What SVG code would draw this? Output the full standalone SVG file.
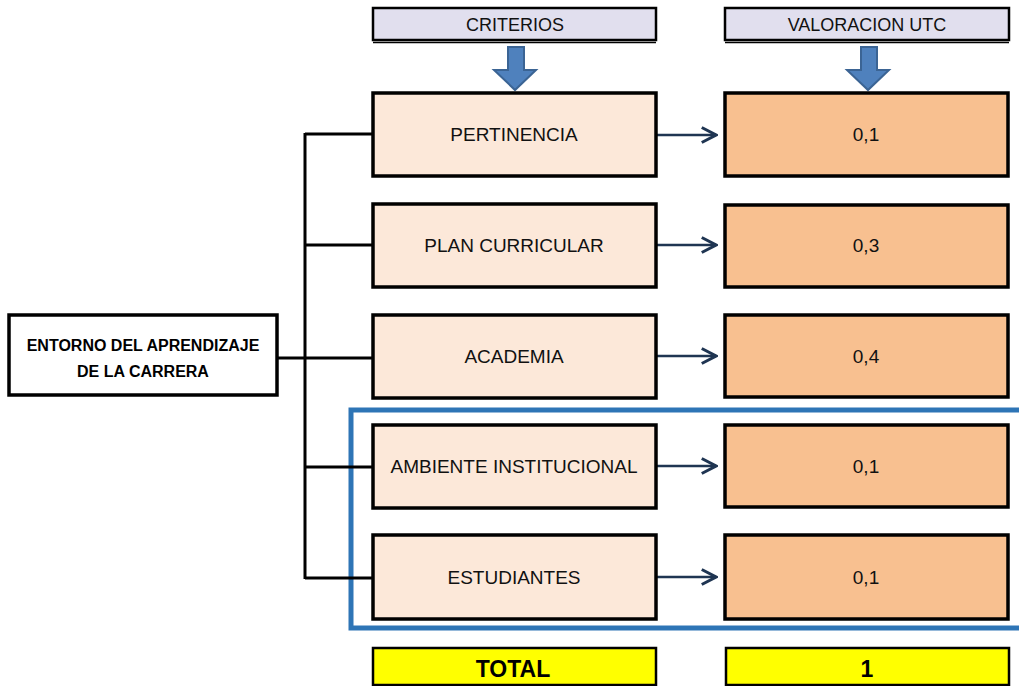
<svg xmlns="http://www.w3.org/2000/svg" width="1019" height="686" viewBox="0 0 1019 686">
  <defs>
    <style>
      .hdr { fill: #E1DFEE; stroke: #000; stroke-width: 2.5; }
      .crit { fill: #FCE8D9; stroke: #000; stroke-width: 3.5; }
      .val { fill: #F8C090; stroke: #000; stroke-width: 3.5; }
      .tot { fill: #FFFF00; stroke: #000; stroke-width: 2.5; }
      .root { fill: #FFFFFF; stroke: #000; stroke-width: 3.5; }
      .t { font-family: "Liberation Sans", Arial, sans-serif; font-size: 19px; fill: #111; text-anchor: middle; }
      .th { font-family: "Liberation Sans", Arial, sans-serif; font-size: 18px; fill: #111; text-anchor: middle; }
      .tb { font-family: "Liberation Sans", Arial, sans-serif; font-weight: bold; fill: #000; text-anchor: middle; }
      .down { fill: #4F81BD; stroke: #3B6494; stroke-width: 2; }
      .tree { stroke: #000; stroke-width: 3; fill: none; }
      .link { stroke: #1F3552; stroke-width: 2.5; fill: none; marker-end: url(#chev); }
    </style>
    <marker id="chev" viewBox="0 0 12 12" refX="11" refY="6" markerWidth="18" markerHeight="18" markerUnits="userSpaceOnUse" orient="auto">
      <path d="M1.5,1 L11,6 L1.5,11" fill="none" stroke="#1F3552" stroke-width="2"/>
    </marker>
  </defs>

  <!-- column headers -->
  <g id="hdr-criterios">
    <rect class="hdr" x="373" y="8" width="283" height="32"/>
    <line x1="373" y1="42.5" x2="656" y2="42.5" stroke="#000" stroke-width="1.5"/>
    <text class="th" x="515" y="31">CRITERIOS</text>
    <path class="down" d="M508,47 H524 V70 H536 L515,90 L494,70 H508 Z"/>
  </g>
  <g id="hdr-valoracion">
    <rect class="hdr" x="725" y="8" width="284" height="32"/>
    <line x1="725" y1="42.5" x2="1009" y2="42.5" stroke="#000" stroke-width="1.5"/>
    <text class="th" x="867" y="31">VALORACION UTC</text>
    <path class="down" d="M861,47 H877 V70 H889 L868,90 L847,70 H861 Z"/>
  </g>

  <!-- highlight frame around the last two rows -->
  <rect id="highlight" x="351" y="410" width="680" height="218" fill="none" stroke="#2E75B6" stroke-width="5"/>

  <!-- tree and arrows -->
  <g id="connectors">
    <path class="tree" d="M305,133 V579"/>
    <path class="tree" d="M305,134 H373"/>
    <path class="tree" d="M305,245 H373"/>
    <path class="tree" d="M277,358 H373"/>
    <path class="tree" d="M305,467 H373"/>
    <path class="tree" d="M305,578 H373"/>
    <path class="link" d="M656,135 H716"/>
    <path class="link" d="M656,245 H716"/>
    <path class="link" d="M656,356 H716"/>
    <path class="link" d="M656,466 H716"/>
    <path class="link" d="M652,577 H716"/>
  </g>

  <!-- root -->
  <g id="root">
    <rect class="root" x="9" y="315" width="268" height="80"/>
    <text class="tb" x="143" y="351" font-size="16">ENTORNO DEL APRENDIZAJE</text>
    <text class="tb" x="143" y="377" font-size="16">DE LA CARRERA</text>
  </g>

  <!-- criteria -->
  <g id="c-pertinencia">
    <rect class="crit" x="373" y="93" width="283" height="83"/>
    <text class="t" x="514" y="141">PERTINENCIA</text>
  </g>
  <g id="c-plan">
    <rect class="crit" x="373" y="204" width="283" height="83"/>
    <text class="t" x="514" y="252">PLAN CURRICULAR</text>
  </g>
  <g id="c-academia">
    <rect class="crit" x="373" y="315" width="283" height="83"/>
    <text class="t" x="514" y="363">ACADEMIA</text>
  </g>
  <g id="c-ambiente">
    <rect class="crit" x="373" y="425" width="283" height="83"/>
    <text class="t" x="514" y="473">AMBIENTE INSTITUCIONAL</text>
  </g>
  <g id="c-estudiantes">
    <rect class="crit" x="373" y="535" width="283" height="84"/>
    <text class="t" x="514" y="584">ESTUDIANTES</text>
  </g>

  <!-- values -->
  <g id="v-pertinencia">
    <rect class="val" x="725" y="93" width="283" height="83"/>
    <text class="t" x="866" y="141">0,1</text>
  </g>
  <g id="v-plan">
    <rect class="val" x="725" y="205" width="283" height="82"/>
    <text class="t" x="866" y="252">0,3</text>
  </g>
  <g id="v-academia">
    <rect class="val" x="725" y="315" width="283" height="82"/>
    <text class="t" x="866" y="363">0,4</text>
  </g>
  <g id="v-ambiente">
    <rect class="val" x="725" y="425" width="283" height="82"/>
    <text class="t" x="866" y="473">0,1</text>
  </g>
  <g id="v-estudiantes">
    <rect class="val" x="725" y="535" width="283" height="84"/>
    <text class="t" x="866" y="584">0,1</text>
  </g>

  <!-- totals -->
  <g id="total-label">
    <rect class="tot" x="373" y="648" width="283" height="37"/>
    <text class="tb" x="513" y="677" font-size="23">TOTAL</text>
  </g>
  <g id="total-value">
    <rect class="tot" x="726" y="648" width="283" height="37"/>
    <text class="tb" x="867" y="677" font-size="23">1</text>
  </g>
</svg>
